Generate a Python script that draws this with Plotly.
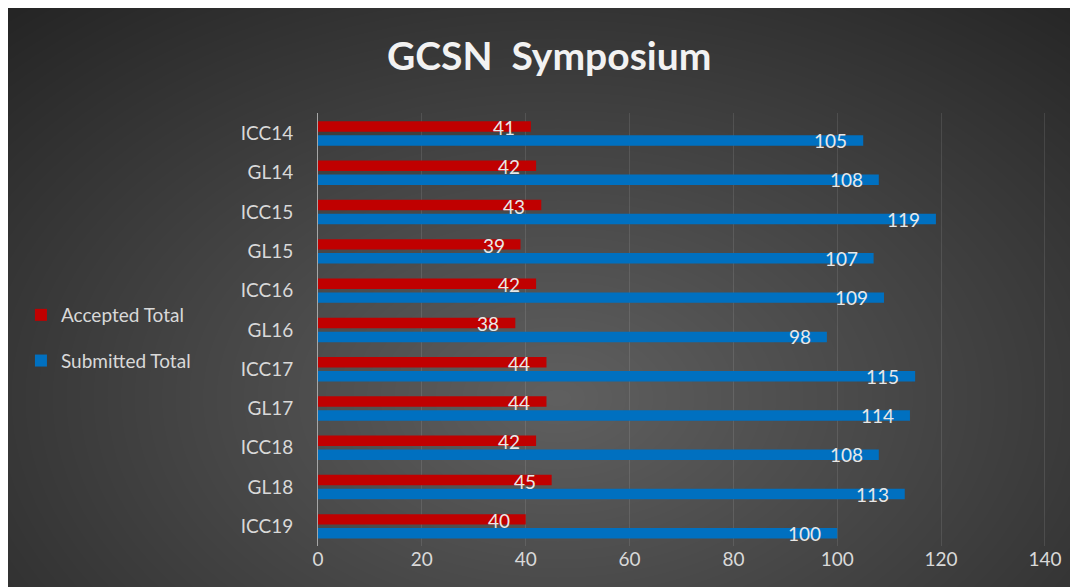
import plotly.graph_objects as go

# ---- data ----
categories = ["ICC14", "GL14", "ICC15", "GL15", "ICC16", "GL16",
              "ICC17", "GL17", "ICC18", "GL18", "ICC19"]
accepted = [41, 42, 43, 39, 42, 38, 44, 44, 42, 45, 40]
submitted = [105, 108, 119, 107, 109, 98, 115, 114, 108, 113, 100]
x_ticks = [0, 20, 40, 60, 80, 100, 120, 140]
series_names = ["Accepted Total", "Submitted Total"]

W, H = 1078, 587
ML, MR, MT, MB = 310, 40, 105, 49
PW, PH = W - ML - MR, H - MT - MB

def px(p):
    return (p - ML) / PW

def py(p):
    return (H - MB - p) / PH

RED = "#c00000"
BLUE = "#0070c0"
FONT = "Lato"
TXT = "#d9d9d9"

fig = go.Figure()
fig.add_trace(go.Bar(y=categories, x=accepted, orientation="h", name=series_names[0],
                     marker=dict(color=RED, line=dict(width=0)), legendgroup="a",
                     hoverinfo="x+y"))
fig.add_trace(go.Bar(y=categories, x=submitted, orientation="h", name=series_names[1],
                     marker=dict(color=BLUE, line=dict(width=0)), legendgroup="s",
                     hoverinfo="x+y"))

annotations = []
for cat, a, s in zip(categories, accepted, submitted):
    annotations.append(dict(x=a, y=cat, xref="x", yref="y", text=str(a), showarrow=False,
                            xanchor="right", yanchor="middle", xshift=-14, yshift=6,
                            font=dict(family=FONT, size=19, color="#e8e8e8")))
    annotations.append(dict(x=s, y=cat, xref="x", yref="y", text=str(s), showarrow=False,
                            xanchor="right", yanchor="middle", xshift=-14, yshift=-7,
                            font=dict(family=FONT, size=19, color="#e8e8e8")))

# background: soft radial glow on a dark panel
shapes = []
cx, cy = 550, 390
N = 60
for i in range(N):
    k = 1 - i / N
    rx, ry = 820 * k, 540 * k
    shapes.append(dict(type="circle", xref="paper", yref="paper", layer="below",
                       x0=px(cx - rx), x1=px(cx + rx), y0=py(cy + ry), y1=py(cy - ry),
                       fillcolor="rgba(255,255,255,0.0062)", line=dict(width=0)))

fig.update_layout(
    width=W, height=H,
    margin=dict(l=ML, r=MR, t=MT, b=MB),
    paper_bgcolor="#232323",
    plot_bgcolor="rgba(0,0,0,0)",
    barmode="group",
    bargap=0.29,
    bargroupgap=0.25,
    title=dict(text="<b>GCSN  Symposium</b>", x=0.502, xref="container", xanchor="center",
               y=1 - 48 / H, yref="container", yanchor="middle",
               font=dict(family=FONT, size=39, color="#f2f2f2")),
    xaxis=dict(range=[0, 140.2], tickvals=x_ticks, showgrid=True,
               gridcolor="rgba(255,255,255,0.10)", gridwidth=1,
               zeroline=False, showline=False, ticks="",
               tickfont=dict(family=FONT, size=19, color=TXT)),
    yaxis=dict(autorange="reversed", showline=True, linecolor="#a6a6a6", linewidth=1,
               ticks="", ticklabelstandoff=20, showgrid=False,
               tickfont=dict(family=FONT, size=19, color=TXT)),
    legend=dict(xref="container", yref="container", x=0.012, y=1 - 330 / H,
                xanchor="left", yanchor="middle", tracegroupgap=18,
                bgcolor="rgba(0,0,0,0)",
                font=dict(family=FONT, size=19, color=TXT)),
    shapes=shapes,
    annotations=annotations,
    showlegend=True,
)

fig.write_html("out.html")
